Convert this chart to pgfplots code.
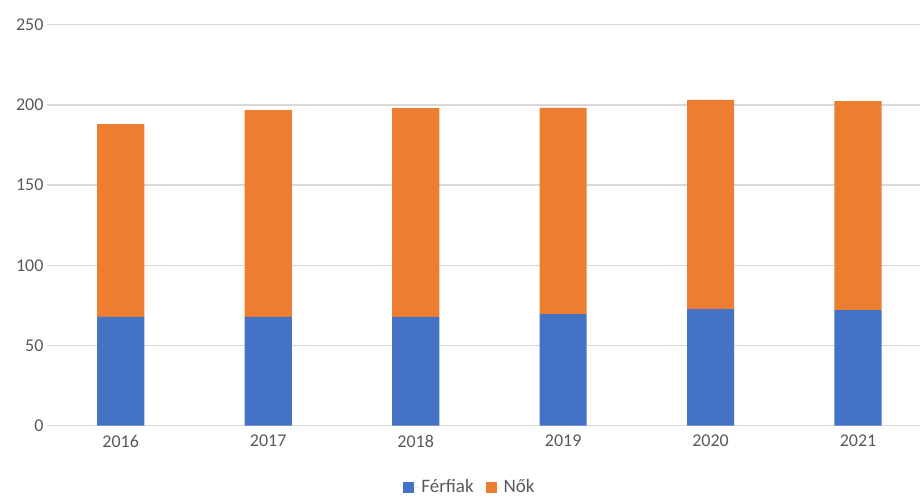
\documentclass[border=0pt]{standalone}
\usepackage{fontspec}
\setmainfont{Carlito}
\usepackage{pgfplots}
\pgfplotsset{compat=1.18}
\definecolor{ferfi}{RGB}{68,114,196}
\definecolor{nok}{RGB}{237,125,49}
\definecolor{gridgray}{RGB}{217,217,217}
\definecolor{txt}{RGB}{89,89,89}

\begin{document}
\begin{tikzpicture}[x=1pt,y=1pt]
\path[use as bounding box] (0,0) rectangle (920,498);
\begin{axis}[
  at={(47pt,72.3pt)}, anchor=south west,
  scale only axis, width=873pt, height=401pt,
  ybar stacked, bar width=0.32,
  xmin=-0.5, xmax=5.42, ymin=0, ymax=250,
  xtick={0,1,2,3,4,5}, xticklabels={2016,2017,2018,2019,2020,2021},
  ytick={0,50,100,150,200,250},
  /pgf/number format/assume math mode=true,
  ymajorgrids, grid style={gridgray, line width=1.3pt},
  axis line style={draw=none},
  major tick length=0pt,
  tick label style={font=\fontsize{18}{20}\selectfont, text=txt},
  x tick label style={yshift=-6pt},
  legend style={at={(0.4845,-0.153)}, anchor=center, draw=none,
    legend columns=2, font=\fontsize{19}{20}\selectfont, text=txt,
    inner sep=0pt, fill=none,
    /tikz/every even column/.append style={column sep=10pt}},
  legend image code/.code={\fill[#1] (0pt,-5.5pt) rectangle (11pt,5.5pt); \path (0pt,0pt) -- (16pt,0pt);},
]
\addplot[fill=ferfi, draw=none] coordinates {(0,67.8) (1,67.8) (2,67.8) (3,69.6) (4,72.7) (5,72.1)};
\addplot[fill=nok, draw=none] coordinates {(0,120.2) (1,129.0) (2,130.2) (3,128.5) (4,130.4) (5,130.3)};
\legend{Férfiak, Nők}
\end{axis}
\end{tikzpicture}
\end{document}
